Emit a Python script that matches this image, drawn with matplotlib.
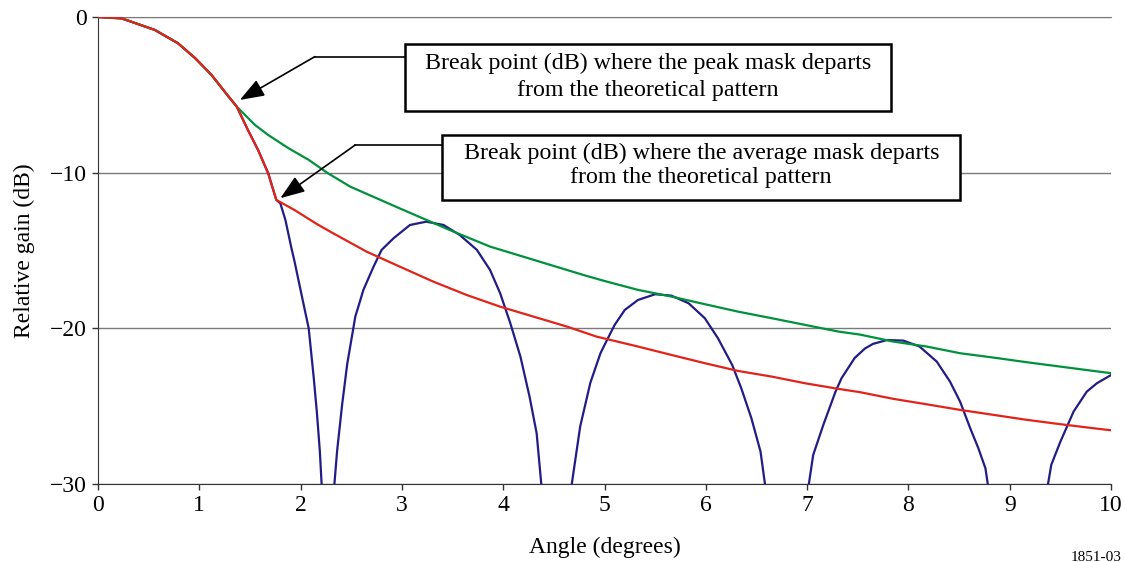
import numpy as np
import matplotlib.pyplot as plt
from matplotlib.patches import Rectangle

plt.rcParams['font.family'] = ['Liberation Serif', 'DejaVu Serif']

# Lóbulo principal (común a las tres curvas)
main_x = [0.0, 0.23, 0.30, 0.56, 0.79, 0.96, 1.12, 1.29, 1.37, 1.48, 1.58, 1.68, 1.76]
main_y = [0.0, -0.09, -0.24, -0.83, -1.69, -2.65, -3.72, -5.12, -5.76, -7.26, -8.54, -10.04, -11.75]

# Diagrama teórico después del lóbulo principal (nan = corte en los nulos)
theo_x = [1.80, 1.85, 1.91, 1.94, 2.01, 2.08, 2.13, 2.16, 2.19, 2.21, np.nan,
          2.33, 2.36, 2.41, 2.46, 2.54, 2.62, 2.72, 2.80, 2.92, 3.08, 3.24, 3.41, 3.57,
          3.74, 3.87, 3.97, 4.07, 4.17, 4.26, 4.33, 4.38, np.nan,
          4.67, 4.76, 4.86, 4.96, 5.00, 5.10, 5.20, 5.33, 5.50, 5.66, 5.83, 5.99, 6.12,
          6.26, 6.35, 6.45, 6.54, 6.59, np.nan,
          7.01, 7.06, 7.16, 7.28, 7.34, 7.47, 7.57, 7.65, 7.79, 7.95, 8.11, 8.28, 8.41,
          8.51, 8.61, 8.69, 8.76, 8.79, np.nan,
          9.37, 9.41, 9.50, 9.63, 9.76, 9.86, 10.0]
theo_y = [-11.97, -13.04, -14.86, -15.7, -17.86, -20.0, -23.2, -25.35, -27.9, -30.3, np.nan,
          -30.3, -27.9, -24.9, -22.3, -19.25, -17.53, -16.04, -14.96, -14.2, -13.36, -13.15, -13.36, -14.0,
          -14.96, -16.25, -17.75, -19.67, -21.82, -24.39, -26.74, -30.3, np.nan,
          -30.3, -26.3, -23.5, -21.6, -21.07, -19.78, -18.82, -18.18, -17.81, -17.9, -18.39, -19.35, -20.64,
          -22.35, -23.85, -25.78, -27.92, -30.3, np.nan,
          -30.3, -28.13, -26.2, -24.07, -23.2, -21.9, -21.3, -21.0, -20.75, -20.79, -21.17, -22.14, -23.42,
          -24.71, -26.42, -27.7, -28.99, -30.3, np.nan,
          -30.3, -28.77, -27.28, -25.35, -24.07, -23.53, -23.0]

# Máscara de pico (después del punto de ruptura)
peak_x = [1.55, 1.68, 1.88, 2.08, 2.27, 2.49, 2.98, 3.47, 3.87, 4.30, 4.79, 5.00,
          5.33, 5.66, 5.99, 6.32, 6.65, 6.98, 7.31, 7.52, 7.85, 8.18, 8.51, 8.84, 9.17,
          9.50, 9.83, 10.0]
peak_y = [-6.94, -7.58, -8.43, -9.18, -10.04, -10.9, -12.3, -13.68, -14.75, -15.6, -16.57, -16.96,
          -17.53, -17.96, -18.45, -18.93, -19.35, -19.78, -20.21, -20.4, -20.85, -21.17, -21.6, -21.88, -22.18,
          -22.46, -22.74, -22.88]

# Máscara media (después del punto de ruptura)
avg_x = [1.94, 2.16, 2.32, 2.65, 2.98, 3.31, 3.64, 3.97, 4.30, 4.63, 4.92, 5.33, 5.66,
         5.99, 6.32, 6.65, 6.98, 7.31, 7.52, 7.85, 8.18, 8.51, 8.84, 9.17, 9.50, 9.83, 10.0]
avg_y = [-12.4, -13.3, -13.89, -15.07, -16.04, -17.0, -17.86, -18.61, -19.25, -19.89, -20.53, -21.17, -21.71,
         -22.24, -22.74, -23.1, -23.53, -23.89, -24.1, -24.53, -24.88, -25.24, -25.56, -25.88, -26.16, -26.42, -26.55]

fig = plt.figure(figsize=(11.25, 5.62), dpi=100)
ax = fig.add_axes([0.0871, 0.1388, 0.9005, 0.831])

ax.plot(main_x + theo_x, main_y + theo_y, color='#221c86', lw=1.6, zorder=3)
ax.plot(main_x[:9] + peak_x, main_y[:9] + peak_y, color='#00913d', lw=1.6, zorder=4)
ax.plot(main_x + avg_x, main_y + avg_y, color='#e2231a', lw=1.6, zorder=5)

ax.set_xlim(0, 10)
ax.set_ylim(-30, 0)
ax.set_xticks(range(0, 11))
ax.set_yticks([0, -10, -20, -30])
ax.yaxis.grid(True, color='#7a7a7a', lw=1.0)
ax.set_axisbelow(True)
ax.spines['right'].set_visible(False)
ax.spines['top'].set_color('#7a7a7a')
ax.spines['left'].set_color('#333333')
ax.spines['bottom'].set_color('#333333')
ax.tick_params(direction='out', length=4, width=1, labelsize=17, color='#333333', pad=4)
ax.set_xlabel('Angle (degrees)', fontsize=17, labelpad=15)
ax.set_ylabel('Relative gain (dB)', fontsize=17, labelpad=11)

# Cuadros de anotación
box1 = Rectangle((3.03, -6.02), 4.80, 4.29, facecolor='white', edgecolor='black', lw=1.8, zorder=6)
box2 = Rectangle((3.40, -11.75), 5.11, 4.17, facecolor='white', edgecolor='black', lw=1.8, zorder=6)
ax.add_patch(box1)
ax.add_patch(box2)
ax.text(5.43, -2.98, 'Break point (dB) where the peak mask departs', ha='center', va='center', fontsize=17.3, zorder=7)
ax.text(5.43, -4.7, 'from the theoretical pattern', ha='center', va='center', fontsize=17.3, zorder=7)
ax.text(5.955, -8.74, 'Break point (dB) where the average mask departs', ha='center', va='center', fontsize=17.3, zorder=7)
ax.text(5.955, -10.34, 'from the theoretical pattern', ha='center', va='center', fontsize=17.3, zorder=7)

ax.plot([2.14, 3.03], [-2.55, -2.55], color='black', lw=1.2, zorder=6)
ax.annotate('', xy=(1.40, -5.33), xytext=(2.14, -2.55),
            arrowprops=dict(arrowstyle='-|>,head_length=1.5,head_width=0.55', color='black', lw=1.2,
                            shrinkA=0, shrinkB=0), zorder=7)
ax.plot([2.54, 3.40], [-8.22, -8.22], color='black', lw=1.2, zorder=6)
ax.annotate('', xy=(1.80, -11.64), xytext=(2.54, -8.22),
            arrowprops=dict(arrowstyle='-|>,head_length=1.5,head_width=0.55', color='black', lw=1.2,
                            shrinkA=0, shrinkB=0), zorder=7)

fig.text(0.997, -0.004, '1851-03', ha='right', va='bottom', fontsize=11)

fig.savefig('out.png', dpi=100)
